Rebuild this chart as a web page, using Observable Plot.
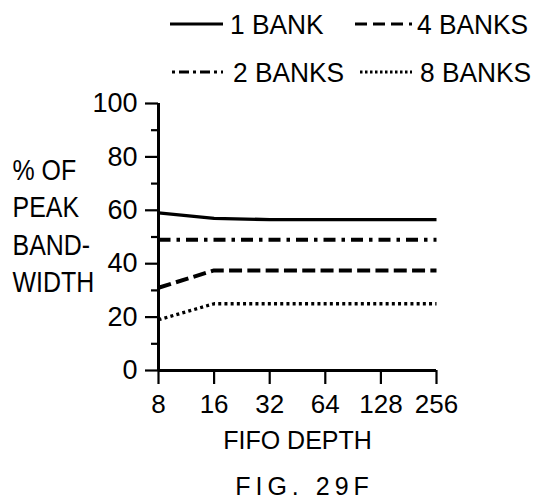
<!DOCTYPE html>
<html>
<head>
<meta charset="utf-8">
<script src="https://cdn.jsdelivr.net/npm/d3@7"></script>
<script src="https://cdn.jsdelivr.net/npm/@observablehq/plot@0.6"></script>
<style>
  html, body { margin: 0; padding: 0; background: #fff; }
  body { width: 545px; height: 504px; position: relative; overflow: hidden;
         font-family: "Liberation Sans", Arial, Helvetica, sans-serif; color: #000; }
  #legend { position: relative; height: 90px; }
  .lg-text { position: absolute; font-size: 28px; line-height: 28px; white-space: nowrap;
             transform: scaleX(0.94); transform-origin: left center; }
  .lg-line { position: absolute; display: block; }
  #caption { position: absolute; left: 0; top: 470px; width: 545px; box-sizing: border-box;
             text-align: center; font-size: 25px; letter-spacing: 5px; line-height: 32px; padding-left: 64px; }
</style>
</head>
<body>
<div id="legend"></div>
<div id="chart"></div>
<div id="caption">FIG. 29F</div>
<script>
// ---- data ----
const fifoDepth = [8, 16, 32, 64, 128, 256];
const seriesNames = ["1 BANK", "2 BANKS", "4 BANKS", "8 BANKS"];
const bank1 = [59, 57, 56.5, 56.5, 56.5, 56.5];
const bank2 = [49, 49, 49, 49, 49, 49];
const bank4 = [31, 37.5, 37.5, 37.5, 37.5, 37.5];
const bank8 = [19, 25, 25, 25, 25, 25];
const yMajorTicks = [0, 20, 40, 60, 80, 100];
const yMinorTicks = [10, 30, 50, 70, 90];
const xTickLabels = ["8", "16", "32", "64", "128", "256"];
const yLabel = "% OF\nPEAK\nBAND-\nWIDTH";
const xLabel = "FIFO DEPTH";

// ---- styles ----
const dashes = {
  "1 BANK": null,
  "2 BANKS": "12,6,3.5,6",
  "4 BANKS": "13,5.3",
  "8 BANKS": "3,3.2"
};
const widths = {"1 BANK": 3.3, "2 BANKS": 4, "4 BANKS": 4, "8 BANKS": 3.3};
const legendDashes = {
  "1 BANK": null,
  "2 BANKS": "3,4,10,4",
  "4 BANKS": "12,6",
  "8 BANKS": "2.5,2.5"
};

const allSeries = [bank1, bank2, bank4, bank8];
const rows = [];
seriesNames.forEach((name, i) => {
  fifoDepth.forEach((d, j) => rows.push({series: name, depth: d, value: allSeries[i][j]}));
});

// ---- legend ----
const legendPos = {
  "1 BANK":  {lineX: 170, lineW: 53, textX: 230, cy: 24},
  "4 BANKS": {lineX: 355, lineW: 57, textX: 417, cy: 24},
  "2 BANKS": {lineX: 172, lineW: 51, textX: 233, cy: 72},
  "8 BANKS": {lineX: 360, lineW: 52, textX: 420, cy: 72}
};
const legend = document.getElementById("legend");
seriesNames.forEach(name => {
  const p = legendPos[name];
  const svg = d3.create("svg").attr("class", "lg-line")
    .attr("width", p.lineW).attr("height", 10)
    .style("left", p.lineX + "px").style("top", (p.cy - 5) + "px");
  svg.append("line").attr("x1", 0).attr("x2", p.lineW).attr("y1", 5).attr("y2", 5)
    .attr("stroke", "#000").attr("stroke-width", 3)
    .attr("stroke-dasharray", legendDashes[name]);
  legend.appendChild(svg.node());
  const span = document.createElement("span");
  span.className = "lg-text";
  span.style.left = p.textX + "px";
  span.style.top = (p.cy - 13.5) + "px";
  span.textContent = name;
  legend.appendChild(span);
});

// ---- chart ----
const fontFamily = '"Liberation Sans", Arial, Helvetica, sans-serif';
const chart = Plot.plot({
  width: 545,
  height: 380,
  marginTop: 13,
  marginBottom: 100,
  marginLeft: 158,
  marginRight: 109,
  style: {fontFamily, fontSize: "25px", color: "#000", background: "#fff", overflow: "visible"},
  x: {type: "log", base: 2, domain: [8, 256]},
  y: {domain: [0, 100]},
  marks: [
    Plot.axisY({ticks: yMajorTicks, tickSize: 13, tickPadding: 8, strokeWidth: 2.2,
      tickFormat: d => String(d), fontSize: 27, label: null}),
    Plot.axisY({ticks: yMinorTicks, tickSize: 7, strokeWidth: 2.2, tickFormat: () => "", label: null}),
    Plot.axisX({ticks: fifoDepth, tickSize: 14, tickPadding: 10, strokeWidth: 2.2,
      tickFormat: d => xTickLabels[fifoDepth.indexOf(d)], fontSize: 26, label: null}),
    Plot.ruleX([8], {stroke: "#000", strokeWidth: 3}),
    Plot.ruleY([0], {stroke: "#000", strokeWidth: 3}),
    ...seriesNames.map(name => Plot.lineY(rows.filter(r => r.series === name), {
      x: "depth", y: "value", stroke: "#000", strokeWidth: widths[name],
      strokeDasharray: dashes[name], strokeLinecap: "butt"
    })),
    Plot.text([yLabel], {frameAnchor: "left", dx: -146, dy: -13, textAnchor: "start",
      lineHeight: 1.29, fontSize: 29, fill: "#000"}),
    Plot.text([xLabel], {frameAnchor: "bottom", dy: 70, lineAnchor: "middle", fontSize: 25, fill: "#000"})
  ]
});
// condense the multi-line y label horizontally (the reference lettering is narrow)
chart.querySelectorAll('g[aria-label="text"] text').forEach(t => {
  if (t.textContent.includes("WIDTH")) {
    const tr = t.getAttribute("transform") || "";
    t.setAttribute("transform", (tr + " scale(0.86,1)").trim());
  }
});
document.getElementById("chart").appendChild(chart);
</script>
</body>
</html>
